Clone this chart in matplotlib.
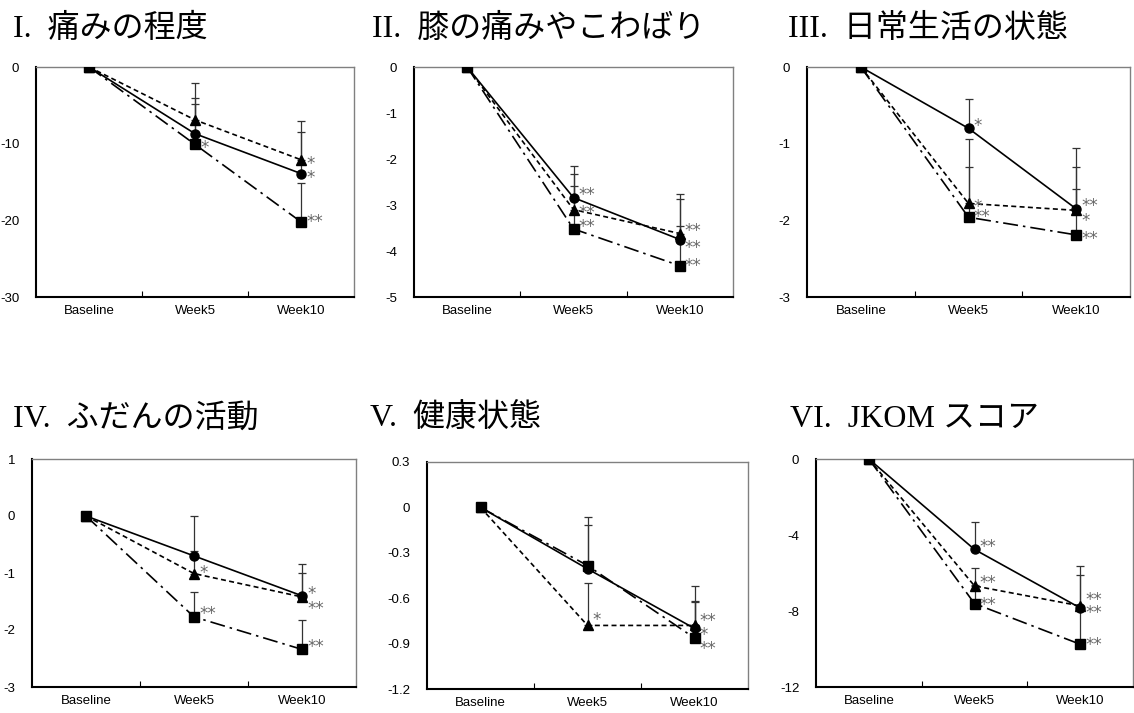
import matplotlib.pyplot as plt
import numpy as np

plt.rcParams['font.family'] = ['Liberation Sans', 'Noto Sans CJK JP']

# categories
x_labels = ["Baseline", "Week5", "Week10"]

titles = ["I.  痛みの程度", "II.  膝の痛みやこわばり", "III.  日常生活の状態",
          "IV.  ふだんの活動", "V.  健康状態", "VI.  JKOM スコア"]

# y axis range / ticks for each panel
y_lims = [(-30, 0), (-5, 0), (-3, 0), (-3, 1), (-1.2, 0.3), (-12, 0)]
y_ticks = [[0, -10, -20, -30], [0, -1, -2, -3, -4, -5], [0, -1, -2, -3],
           [1, 0, -1, -2, -3], [0.3, 0, -0.3, -0.6, -0.9, -1.2], [0, -4, -8, -12]]
y_ticklabels = [["0", "-10", "-20", "-30"], ["0", "-1", "-2", "-3", "-4", "-5"],
                ["0", "-1", "-2", "-3"], ["1", "0", "-1", "-2", "-3"],
                ["0.3", "0", "-0.3", "-0.6", "-0.9", "-1.2"], ["0", "-4", "-8", "-12"]]

# mean change from baseline (circle / triangle / square groups)
circle_vals = [[0, -8.7, -13.9], [0, -2.84, -3.75], [0, -0.80, -1.85],
               [0, -0.70, -1.40], [0, -0.406, -0.80], [0, -4.76, -7.84]]
triangle_vals = [[0, -6.9, -12.1], [0, -3.10, -3.62], [0, -1.78, -1.87],
                 [0, -1.01, -1.42], [0, -0.78, -0.78], [0, -6.68, -7.73]]
square_vals = [[0, -10.1, -20.2], [0, -3.52, -4.32], [0, -1.96, -2.19],
               [0, -1.77, -2.34], [0, -0.384, -0.863], [0, -7.61, -9.75]]

# upper error bar lengths
circle_err = [[0, 4.7, 5.4], [0, 0.69, 0.99], [0, 0.38, 0.80],
              [0, 0.70, 0.55], [0, 0.29, 0.18], [0, 1.46, 2.22]]
triangle_err = [[0, 4.8, 5.0], [0, 0.77, 0.75], [0, 0.84, 0.56],
                [0, 0.40, 0.42], [0, 0.28, 0.26], [0, 0.95, 1.60]]
square_err = [[0, 5.3, 5.1], [0, 0.94, 0.87], [0, 0.66, 0.60],
              [0, 0.44, 0.52], [0, 0.32, 0.24], [0, 1.0, 1.85]]

# significance marks
circle_sig = [["", "", "*"], ["", "**", "**"], ["", "*", "**"],
              ["", "", "*"], ["", "", "*"], ["", "**", "**"]]
triangle_sig = [["", "", "*"], ["", "**", "**"], ["", "*", "*"],
                ["", "*", "**"], ["", "*", "**"], ["", "**", "**"]]
square_sig = [["", "*", "**"], ["", "**", "**"], ["", "**", "**"],
              ["", "**", "**"], ["", "", "**"], ["", "**", "**"]]

# pixel boxes of the axes: left, right, top, bottom
W, H = 1134, 713
boxes = [(36, 354, 67, 297), (414, 733, 67, 297), (807, 1130, 67, 297),
         (32, 356, 459, 687), (427, 748, 462, 689), (816, 1133, 459, 687)]
title_pos = [(13, 37), (372, 37), (788, 37), (13, 427), (370, 427), (790, 427)]

# vertical nudges (px, + is up) for asterisks, keyed (panel, series, week)
nudge = {(0, 2, 2): 4,
         (1, 0, 1): 7, (1, 1, 1): 1, (1, 2, 1): 6,
         (1, 1, 2): 7, (1, 0, 2): -5, (1, 2, 2): 4,
         (2, 0, 1): 6, (2, 2, 1): 4, (2, 0, 2): 7, (2, 1, 2): -7,
         (3, 1, 1): 5, (3, 2, 1): 7, (3, 0, 2): 6, (3, 1, 2): -8, (3, 2, 2): 6,
         (4, 1, 1): 9, (4, 1, 2): 8, (4, 0, 2): -3, (4, 2, 2): -7,
         (5, 0, 1): 6, (5, 1, 1): 7, (5, 2, 1): 3,
         (5, 1, 2): 10, (5, 0, 2): -1, (5, 2, 2): 3}

series_style = [
    dict(marker="o", linestyle="-"),
    dict(marker="^", linestyle=(0, (3, 2))),
    dict(marker="s", linestyle=(0, (9, 3, 1.5, 3))),
]

fig = plt.figure(figsize=(W / 100, H / 100), dpi=100)
x = np.arange(len(x_labels))

for i in range(6):
    l, r, t, b = boxes[i]
    ax = fig.add_axes([l / W, 1 - b / H, (r - l) / W, (b - t) / H])
    groups = [(circle_vals[i], circle_err[i], circle_sig[i]),
              (triangle_vals[i], triangle_err[i], triangle_sig[i]),
              (square_vals[i], square_err[i], square_sig[i])]
    for k, (vals, err, sig) in enumerate(groups):
        vals = np.array(vals)
        err = np.array(err)
        ax.errorbar(x, vals, yerr=[np.zeros_like(err), err], fmt="none",
                    ecolor="#333333", elinewidth=0.9, capsize=3, capthick=0.9, zorder=2)
        ax.plot(x, vals, color="black", linewidth=1.2, markersize=6.5,
                zorder=3, **series_style[k])
        for j, s in enumerate(sig):
            if s:
                dy = nudge.get((i, k, j), 0)
                ax.annotate(s, xy=(x[j], vals[j]), xytext=(5, dy - 4),
                            textcoords="offset pixels", ha="left", va="center",
                            fontsize=12, color="#666666", zorder=4,
                            family=["DejaVu Sans"])
    ax.set_xlim(-0.5, 2.5)
    ax.set_ylim(*y_lims[i])
    ax.set_xticks([0.5, 1.5])
    ax.set_xticks(x, minor=True)
    ax.set_xticklabels([])
    ax.set_xticklabels(x_labels, minor=True)
    ax.tick_params(axis="x", which="major", direction="in", length=4, width=0.8)
    ax.tick_params(axis="x", which="minor", length=0, pad=6, labelsize=9.5)
    ax.set_yticks(y_ticks[i])
    ax.set_yticklabels(y_ticklabels[i])
    ax.tick_params(axis="y", length=0, pad=12, labelsize=9.5)
    for side in ["left", "bottom"]:
        ax.spines[side].set_linewidth(1.5)
        ax.spines[side].set_color("black")
    for side in ["top", "right"]:
        ax.spines[side].set_linewidth(1.0)
        ax.spines[side].set_color("#808080")
    tx, ty = title_pos[i]
    fig.text(tx / W, 1 - ty / H, titles[i], fontsize=23, va="baseline", ha="left",
             family=["Liberation Serif", "Noto Sans CJK JP"])

fig.savefig("out.png", dpi=100)
